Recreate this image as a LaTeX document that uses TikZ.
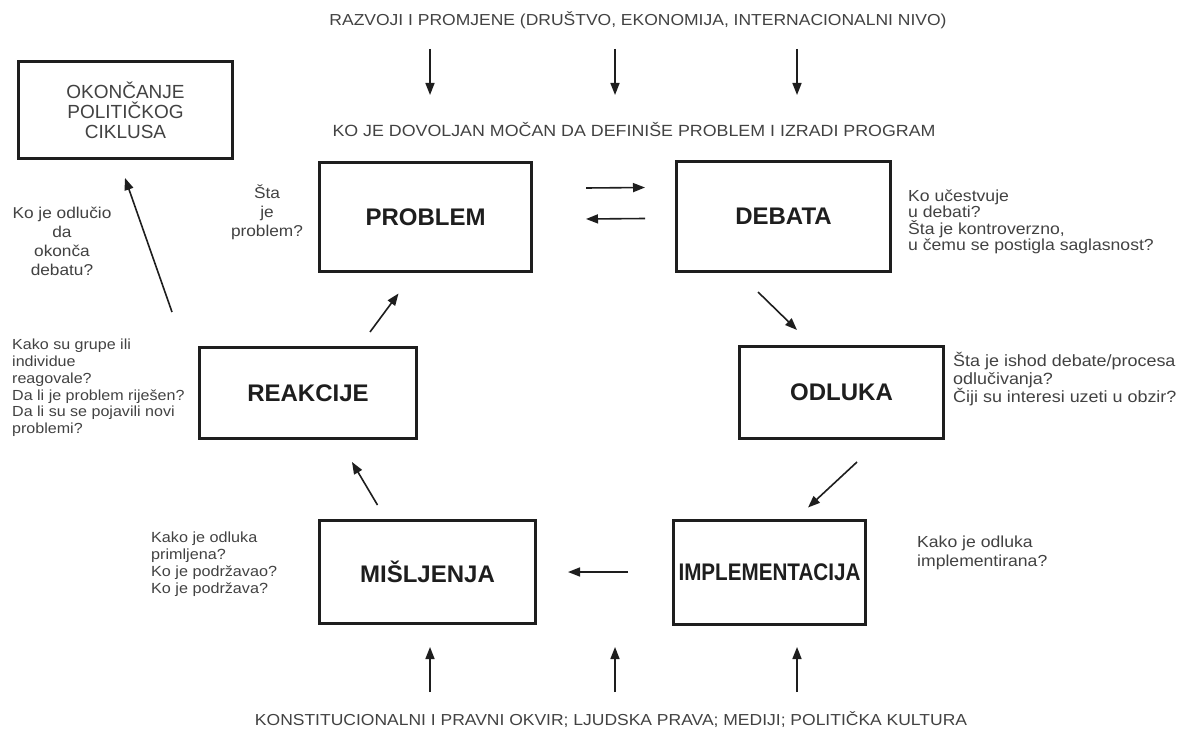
\documentclass[tikz,border=0pt]{standalone}
\usepackage{fontspec}
\setmainfont{Liberation Sans}
\newfontfamily\lab[FakeStretch=1.1]{Liberation Sans}
\usetikzlibrary{arrows.meta}
\definecolor{txtgray}{HTML}{424242}
\definecolor{ink}{HTML}{1E1E1E}
\begin{document}
\begin{tikzpicture}[x=1pt,y=-1pt,
  box/.style={draw=ink,line width=3pt,inner sep=0pt,font=\fontsize{24}{28}\selectfont\bfseries,text=ink},
  arr/.style={draw=ink,line width=1.6pt,-{Triangle[length=12pt,width=9pt]}},
  note/.style={text=txtgray,inner sep=0pt,font=\lab\fontsize{16}{16.5}\selectfont,align=left,anchor=west},
  head/.style={text=txtgray,inner sep=0pt}]
\useasboundingbox[fill=white] (0,0) rectangle (1182,738);

% boxes
\node[box,minimum width=214pt,minimum height=97pt,font=\fontsize{19}{20}\selectfont,text=txtgray,align=center] (okon) at (125.5,110) {OKONČANJE\\POLITIČKOG\\CIKLUSA};
\node[box,minimum width=212pt,minimum height=108pt] (problem) at (425.5,217) {PROBLEM};
\node[box,minimum width=214pt,minimum height=110pt] (debata) at (783.5,216.5) {DEBATA};
\node[box,minimum width=217pt,minimum height=91pt] (reakcije) at (308,393) {REAKCIJE};
\node[box,minimum width=204pt,minimum height=92pt] (odluka) at (841.5,392.5) {ODLUKA};
\node[box,minimum width=216pt,minimum height=103pt] (misljenja) at (427.5,572) {MIŠLJENJA};
\node[box,minimum width=192pt,minimum height=104pt] (impl) at (769.5,572) {\scalebox{0.86}[1]{IMPLEMENTACIJA}};

% headings
\node[head,font=\lab\fontsize{15.9}{18}\selectfont] (razvoji) at (638,20) {RAZVOJI I PROMJENE (DRUŠTVO, EKONOMIJA, INTERNACIONALNI NIVO)};
\node[head,font=\lab\fontsize{16.2}{18}\selectfont] (kojedov) at (634,130) {KO JE DOVOLJAN MOČAN DA DEFINIŠE PROBLEM I IZRADI PROGRAM};
\node[head,font=\lab\fontsize{15.9}{18}\selectfont] (ustav) at (611,720) {KONSTITUCIONALNI I PRAVNI OKVIR; LJUDSKA PRAVA; MEDIJI; POLITIČKA KULTURA};

% notes
\node[note,align=center,anchor=center,font=\lab\fontsize{15.7}{19}\selectfont] (nsta) at (267,212) {Šta\\je\\problem?};
\node[note,align=center,anchor=center,font=\lab\fontsize{15.7}{19}\selectfont] (nko) at (62,241) {Ko je odlučio\\da\\okonča\\debatu?};
\node[note] (ndeb) at (908,222) {Ko učestvuje\\u debati?\\Šta je kontroverzno,\\u čemu se postigla saglasnost?};
\node[note,font=\lab\fontsize{14.6}{16.8}\selectfont] (nreak) at (12,388) {Kako su grupe ili\\individue\\reagovale?\\Da li je problem riješen?\\Da li su se pojavili novi\\problemi?};
\node[note,font=\lab\fontsize{16.3}{18}\selectfont] (nodl) at (953,379) {Šta je ishod debate/procesa\\odlučivanja?\\Čiji su interesi uzeti u obzir?};
\node[note,font=\lab\fontsize{14.7}{17}\selectfont] (nmis) at (151,564) {Kako je odluka\\primljena?\\Ko je podržavao?\\Ko je podržava?};
\node[note,font=\lab\fontsize{16}{19}\selectfont] (nimp) at (917,553) {Kako je odluka\\implementirana?};

% top and bottom arrows
\foreach \i/\x in {1/430,2/615,3/797}{
  \coordinate (ta\i) at (\x,49);
  \coordinate (tb\i) at (\x,95);
  \coordinate (ba\i) at (\x,692);
  \coordinate (bb\i) at (\x,647);
  \draw[arr] (ta\i) -- (tb\i);
  \draw[arr] (ba\i) -- (bb\i);
}

% cycle arrows
\draw[arr] ([xshift=53pt,yshift=29pt]problem.east) -- ([xshift=-30pt,yshift=29pt]debata.west);
\draw[arr] ([xshift=-30pt,yshift=-2pt]debata.west) -- ([xshift=53pt,yshift=-2pt]problem.east);
\draw[arr] ([xshift=-25.5pt,yshift=-19pt]debata.south) -- ([xshift=-44.5pt,yshift=15pt]odluka.north);
\draw[arr] ([xshift=15.5pt,yshift=-22pt]odluka.south) -- ([xshift=38.5pt,yshift=11pt]impl.north);
\draw[arr] ([xshift=-44pt]impl.west) -- ([xshift=31pt]misljenja.east);
\draw[arr] ([xshift=-50pt,yshift=14pt]misljenja.north) -- ([xshift=44pt,yshift=-22pt]reakcije.south);
\draw[arr] ([xshift=62pt,yshift=14pt]reakcije.north) -- ([xshift=-27pt,yshift=-21pt]problem.south);
\coordinate (kraj) at (172,312);
\draw[arr] (kraj) -- ([xshift=-0.5pt,yshift=-18pt]okon.south);
\end{tikzpicture}
\end{document}
